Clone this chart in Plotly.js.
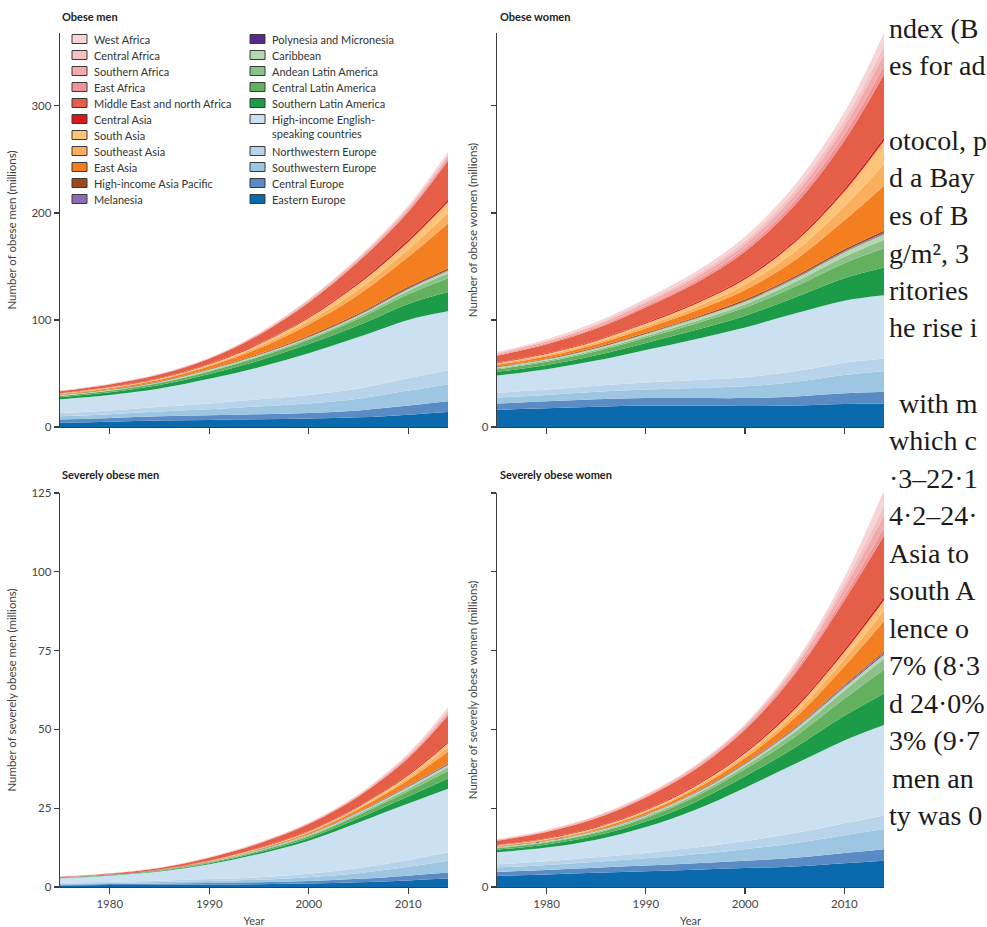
<!DOCTYPE html>
<html><head><meta charset="utf-8">
<script src="https://cdn.plot.ly/plotly-3.0.1.min.js"></script>
<style>html,body{margin:0;padding:0;background:#fff;}#chart{width:987px;height:927px;}</style>
</head><body><div id="chart"></div>
<script>
// ---------------- DATA ----------------
const years = [1975, 1980, 1985, 1990, 1995, 2000, 2005, 2010, 2014];

// stacking order: bottom -> top
const regions = [
  "Eastern Europe", "Central Europe", "Southwestern Europe", "Northwestern Europe",
  "High-income English-speaking countries", "Southern Latin America", "Central Latin America",
  "Andean Latin America", "Caribbean", "Polynesia and Micronesia", "Melanesia",
  "High-income Asia Pacific", "East Asia", "Southeast Asia", "South Asia", "Central Asia",
  "Middle East and north Africa", "East Africa", "Southern Africa", "Central Africa", "West Africa"
];
const regionColors = [
  "#0b6aad", "#5b8bc5", "#9dc6e2", "#b7d4ea",
  "#cbe0f0", "#1c9c48", "#63b05f",
  "#8cc189", "#b6d8ae", "#562a8c", "#8c6db5",
  "#9c4a1c", "#f37f21", "#fbae5c", "#fdc479", "#d7191c",
  "#e55e48", "#ee9496", "#f2aaac", "#f5c0c2", "#f7d4d6"
];

// Obese men (millions), one row per region in stacking order
const obeseMen = [
  [4, 5, 6, 6.5, 7.2, 8, 9, 11.5, 14],
  [3, 3.5, 4, 4.5, 4.8, 5, 6.5, 8.5, 10],
  [3, 3.5, 4.5, 5.5, 7.2, 9, 11, 14, 16],
  [3, 3.5, 4.5, 5.5, 6.7, 8, 9.5, 11.5, 13],
  [13, 14.5, 17, 23, 30, 39, 48, 54.5, 55],
  [2, 2.5, 3.2, 4.5, 6.2, 8.5, 11, 15, 18],
  [1, 1.3, 1.8, 2.4, 3.2, 4, 6, 9, 13],
  [0.3, 0.4, 0.5, 0.7, 0.95, 1.3, 2, 3, 4.5],
  [0.4, 0.5, 0.6, 0.8, 0.95, 1.1, 1.4, 2, 2.5],
  [0.05, 0.06, 0.08, 0.1, 0.12, 0.15, 0.2, 0.25, 0.3],
  [0.05, 0.06, 0.08, 0.1, 0.12, 0.15, 0.2, 0.25, 0.3],
  [0.3, 0.4, 0.5, 0.6, 0.8, 1, 1.2, 1.4, 1.5],
  [0.6, 0.9, 1.4, 2.6, 5.2, 10.5, 17.5, 28, 42],
  [0.3, 0.45, 0.6, 0.8, 1.9, 3, 5, 7, 10],
  [0.3, 0.45, 0.6, 0.8, 1.9, 3, 5, 7, 10],
  [0.25, 0.3, 0.4, 0.5, 0.8, 1.1, 1.5, 2, 2.5],
  [1.8, 2.4, 3.2, 4.8, 8, 13.5, 19.5, 26, 36],
  [0.15, 0.2, 0.25, 0.3, 0.5, 0.8, 1, 1.4, 2],
  [0.25, 0.3, 0.35, 0.4, 0.75, 1.3, 1.6, 2, 2.5],
  [0.1, 0.1, 0.15, 0.15, 0.35, 0.6, 0.7, 1, 1.5],
  [0.15, 0.17, 0.2, 0.22, 0.4, 0.6, 0.9, 1.6, 2.5]
];

// Obese women (millions)
const obeseWomen = [
  [16, 17.5, 19, 20, 20, 19.5, 20, 21.5, 22],
  [6, 6.5, 7, 7, 7, 7.5, 8.5, 10, 11],
  [5.5, 6, 7, 8, 9.5, 11, 13.5, 17, 19],
  [4.5, 5, 5.5, 6.5, 7.5, 8.5, 10, 11.5, 12],
  [16, 19, 23.5, 30.5, 38, 46.5, 54, 58, 59],
  [3.5, 4, 5, 6.5, 8.5, 11, 15, 21, 26],
  [2.5, 3, 3.8, 4.8, 6, 7.5, 10, 14, 18],
  [0.8, 1, 1.3, 1.7, 2.3, 3, 4.2, 6, 8],
  [1, 1.2, 1.5, 1.8, 2.2, 2.7, 3.3, 4.2, 5],
  [0.1, 0.12, 0.15, 0.2, 0.25, 0.3, 0.4, 0.5, 0.6],
  [0.1, 0.12, 0.15, 0.2, 0.25, 0.3, 0.45, 0.6, 0.8],
  [0.5, 0.6, 0.7, 0.8, 1, 1.2, 1.4, 1.7, 2],
  [1.5, 2, 2.8, 4.2, 6, 9, 15, 27, 42],
  [0.8, 1.1, 1.5, 2.2, 3.2, 5, 8, 13, 20],
  [0.8, 1.1, 1.5, 2.2, 3.2, 5, 8.5, 14, 22],
  [0.5, 0.6, 0.7, 0.9, 1.1, 1.4, 1.8, 2.4, 3],
  [6.5, 8.5, 10.8, 14.3, 18.3, 24.5, 33, 45, 59],
  [0.7, 0.9, 1.2, 1.6, 2.1, 2.8, 4, 5.8, 8],
  [1.2, 1.6, 2, 2.6, 3.3, 4.3, 5.7, 7.8, 11],
  [0.6, 0.9, 1.2, 1.6, 2.1, 2.8, 3.8, 5.2, 7.6],
  [0.9, 1.3, 1.7, 2.4, 3.2, 4.2, 5.5, 7.5, 12]
];

// Severely obese men (millions)
const severeMen = [
  [0.5, 0.6, 0.7, 0.8, 0.9, 1.1, 1.5, 2.1, 2.7],
  [0.3, 0.35, 0.4, 0.5, 0.6, 0.8, 1.1, 1.5, 1.9],
  [0.3, 0.35, 0.45, 0.6, 0.8, 1.2, 1.8, 2.8, 3.7],
  [0.3, 0.35, 0.45, 0.6, 0.8, 1.1, 1.6, 2.2, 2.7],
  [1.4, 1.95, 2.9, 4.7, 7.4, 10.5, 14.5, 17.9, 20.2],
  [0.1, 0.13, 0.18, 0.3, 0.5, 0.8, 1.3, 2.2, 3.2],
  [0.08, 0.1, 0.14, 0.25, 0.4, 0.6, 1, 1.7, 2.4],
  [0.03, 0.04, 0.06, 0.1, 0.17, 0.28, 0.45, 0.8, 1.2],
  [0.04, 0.05, 0.07, 0.12, 0.18, 0.26, 0.4, 0.6, 0.8],
  [0.01, 0.01, 0.02, 0.03, 0.04, 0.06, 0.09, 0.14, 0.2],
  [0.01, 0.01, 0.01, 0.02, 0.03, 0.04, 0.06, 0.08, 0.1],
  [0.01, 0.01, 0.02, 0.03, 0.04, 0.06, 0.09, 0.14, 0.2],
  [0.01, 0.02, 0.05, 0.12, 0.22, 0.4, 0.8, 1.8, 3.7],
  [0.01, 0.02, 0.03, 0.07, 0.12, 0.2, 0.35, 0.7, 1.3],
  [0.01, 0.02, 0.03, 0.07, 0.12, 0.2, 0.35, 0.7, 1.4],
  [0.01, 0.02, 0.04, 0.08, 0.1, 0.15, 0.22, 0.35, 0.5],
  [0.13, 0.25, 0.5, 0.9, 1.4, 2.2, 3.1, 5.2, 8.2],
  [0.01, 0.01, 0.02, 0.05, 0.06, 0.09, 0.13, 0.25, 0.4],
  [0.02, 0.03, 0.05, 0.12, 0.18, 0.25, 0.35, 0.55, 0.8],
  [0.01, 0.01, 0.02, 0.05, 0.07, 0.1, 0.15, 0.3, 0.5],
  [0.01, 0.02, 0.03, 0.04, 0.07, 0.11, 0.15, 0.45, 0.9]
];

// Severely obese women (millions)
const severeWomen = [
  [3.5, 4, 4.5, 5, 5.5, 6, 6.5, 7.5, 8.3],
  [1.3, 1.4, 1.6, 1.8, 2, 2.3, 2.8, 3.3, 3.7],
  [1.4, 1.6, 1.9, 2.3, 2.9, 3.7, 4.6, 5.6, 6.4],
  [1, 1.2, 1.4, 1.7, 2.1, 2.6, 3.2, 3.8, 4.3],
  [3.8, 4.3, 5.6, 8.2, 12, 16.9, 21.9, 26.3, 28.7],
  [0.8, 1, 1.3, 1.8, 2.5, 3.6, 5.2, 7.8, 10],
  [0.5, 0.6, 0.8, 1.1, 1.6, 2.3, 3.4, 5.4, 7.5],
  [0.2, 0.25, 0.35, 0.5, 0.7, 1, 1.6, 2.6, 3.6],
  [0.2, 0.25, 0.3, 0.4, 0.5, 0.65, 0.85, 1.1, 1.3],
  [0.03, 0.04, 0.05, 0.07, 0.09, 0.12, 0.17, 0.24, 0.3],
  [0.03, 0.04, 0.05, 0.07, 0.09, 0.12, 0.17, 0.24, 0.3],
  [0.04, 0.05, 0.06, 0.08, 0.1, 0.14, 0.2, 0.3, 0.4],
  [0.2, 0.3, 0.45, 0.65, 0.95, 1.5, 3, 5.8, 9.6],
  [0.1, 0.15, 0.22, 0.32, 0.48, 0.75, 1.4, 2.3, 3.3],
  [0.1, 0.15, 0.22, 0.32, 0.48, 0.75, 1.4, 2.3, 3.3],
  [0.1, 0.15, 0.2, 0.26, 0.33, 0.45, 0.6, 0.8, 1],
  [1.4, 2, 2.8, 3.8, 5, 7, 10.5, 15.5, 19.5],
  [0.1, 0.15, 0.2, 0.25, 0.32, 0.45, 0.8, 1.5, 2.5],
  [0.2, 0.25, 0.33, 0.42, 0.55, 0.75, 1.3, 2.5, 4],
  [0.1, 0.12, 0.15, 0.2, 0.25, 0.35, 0.7, 1.5, 3],
  [0.1, 0.13, 0.18, 0.22, 0.28, 0.4, 0.8, 1.8, 5]
];

const panelTitles = ["Obese men", "Obese women", "Severely obese men", "Severely obese women"];
const yTitles = ["Number of obese men (millions)", "Number of obese women (millions)",
                 "Number of severely obese men (millions)", "Number of severely obese women (millions)"];
const xTickVals = [1980, 1990, 2000, 2010];
const yTicksTop = [0, 100, 200, 300];
const yTicksBottom = [0, 25, 50, 75, 100, 125];

// visible fragment of the journal text column at the right
const pageLines = [
  "ndex (B", "es for ad", "", "otocol, p", "d a Bay", "es of B", "g/m², 3",
  "ritories", "he rise i", "", "with m", "which c", "·3–22·1", "4·2–24·",
  "Asia to", "south A", "lence o", "7% (8·3", "d 24·0%", "3% (9·7", "men an", "ty was 0"
];
const pageLineX = [887, 887, 0, 887, 887, 887, 887, 887, 887, 0, 897, 887, 887, 887,
                   887, 887, 887, 887, 887, 887, 890, 887];

// ---------------- BUILD ----------------
const W = 987, H = 927;
const px = x => x / W, py = y => 1 - y / H;
const FONT = "Lato, 'Open Sans', sans-serif";

const panels = [
  {data: obeseMen, xa: 'x', ya: 'y', sg: 'om'},
  {data: obeseWomen, xa: 'x2', ya: 'y2', sg: 'ow'},
  {data: severeMen, xa: 'x3', ya: 'y3', sg: 'som'},
  {data: severeWomen, xa: 'x4', ya: 'y4', sg: 'sow'}
];

const traces = [];
panels.forEach(p => {
  p.data.forEach((vals, i) => {
    traces.push({
      type: 'scatter', mode: 'lines', x: years, y: vals, name: regions[i],
      xaxis: p.xa, yaxis: p.ya, stackgroup: p.sg,
      line: {width: 0, shape: 'spline', smoothing: 1},
      fillcolor: regionColors[i], showlegend: false, hoverinfo: 'x+y+name'
    });
  });
});

const axisCommon = {
  showline: true, linecolor: '#3d3d3d', linewidth: 1.3, ticks: 'outside', ticklen: 5,
  tickwidth: 1.3, tickcolor: '#3d3d3d', showgrid: false, zeroline: false, fixedrange: true,
  tickfont: {family: FONT, size: 11.5, color: '#444'}
};
const leftDom = [px(60), px(448)], rightDom = [px(497), px(884)];
const topDom = [py(427), py(33)], botDom = [py(887), py(493)];

function xAxis(dom, anchor, labels, withTitle) {
  const a = Object.assign({}, axisCommon, {
    domain: dom, anchor: anchor, range: [1975, 2014], tickvals: xTickVals,
    showticklabels: labels, ticklen: 6
  });
  if (withTitle) a.title = {text: 'Year', font: {family: FONT, size: 11, color: '#444'}, standoff: 8};
  return a;
}
function yAxis(dom, anchor, range, ticks, showLabels, title, standoff) {
  return Object.assign({}, axisCommon, {
    domain: dom, anchor: anchor, range: range, tickvals: ticks,
    ticktext: ticks.map((t, k) => (showLabels || k === 0) ? String(t) : ''),
    title: {text: title, font: {family: FONT, size: 11.5, color: '#444'}, standoff: standoff}
  });
}

const shapes = [], annotations = [];
// panel titles
[[60, 17], [498, 17], [60, 474], [498, 474]].forEach((pos, k) => {
  annotations.push({xref: 'paper', yref: 'paper', x: px(pos[0]), y: py(pos[1]), xanchor: 'left', yanchor: 'middle',
    showarrow: false, text: '<b>' + panelTitles[k] + '</b>', font: {family: FONT, size: 11, color: '#222'}});
});

// legend (two columns), order = top of stack first
const col1 = [], col2 = [];
for (let i = regions.length - 1; i >= 0; i--) (i >= 10 ? col1 : col2).push(i);
function legendItem(idx, sx, ty) {
  shapes.push({type: 'rect', xref: 'paper', yref: 'paper', x0: px(sx), x1: px(sx + 15),
    y0: py(ty + 4.5), y1: py(ty - 4.5), fillcolor: regionColors[idx], line: {color: '#3a3a3a', width: 1}});
  const label = regions[idx] === "High-income English-speaking countries"
    ? "High-income English-<br>speaking countries" : regions[idx];
  annotations.push({xref: 'paper', yref: 'paper', x: px(sx + 20), y: py(ty - 8), xanchor: 'left', yanchor: 'top',
    showarrow: false, align: 'left', text: label, font: {family: FONT, size: 11, color: '#333'}});
}
let yy = 39;
col1.forEach(idx => { legendItem(idx, 72, yy); yy += 16; });
yy = 39;
col2.forEach(idx => { legendItem(idx, 250, yy); yy += (regions[idx].startsWith("High-income English") ? 32 : 16); });

// page text
pageLines.forEach((t, k) => {
  if (!t) return;
  annotations.push({xref: 'paper', yref: 'paper', x: px(pageLineX[k]), y: py(28 + k * 37.5), xanchor: 'left', yanchor: 'middle',
    showarrow: false, text: t, font: {family: "'Liberation Serif', 'DejaVu Serif', serif", size: 28, color: '#1c1a1a'}});
});

const layout = {
  width: W, height: H, margin: {l: 0, r: 0, t: 0, b: 0},
  paper_bgcolor: '#fff', plot_bgcolor: 'rgba(0,0,0,0)', showlegend: false,
  font: {family: FONT},
  xaxis: xAxis(leftDom, 'y', false, false),
  yaxis: yAxis(topDom, 'x', [0, 368], yTicksTop, true, yTitles[0], 12),
  xaxis2: xAxis(rightDom, 'y2', false, false),
  yaxis2: yAxis(topDom, 'x2', [0, 368], yTicksTop, false, yTitles[1], 1),
  xaxis3: xAxis(leftDom, 'y3', true, true),
  yaxis3: yAxis(botDom, 'x3', [0, 125], yTicksBottom, true, yTitles[2], 12),
  xaxis4: xAxis(rightDom, 'y4', true, true),
  yaxis4: yAxis(botDom, 'x4', [0, 125], yTicksBottom, false, yTitles[3], 1),
  shapes: shapes, annotations: annotations
};

Plotly.newPlot('chart', traces, layout, {displayModeBar: false, staticPlot: true});
</script></body></html>
